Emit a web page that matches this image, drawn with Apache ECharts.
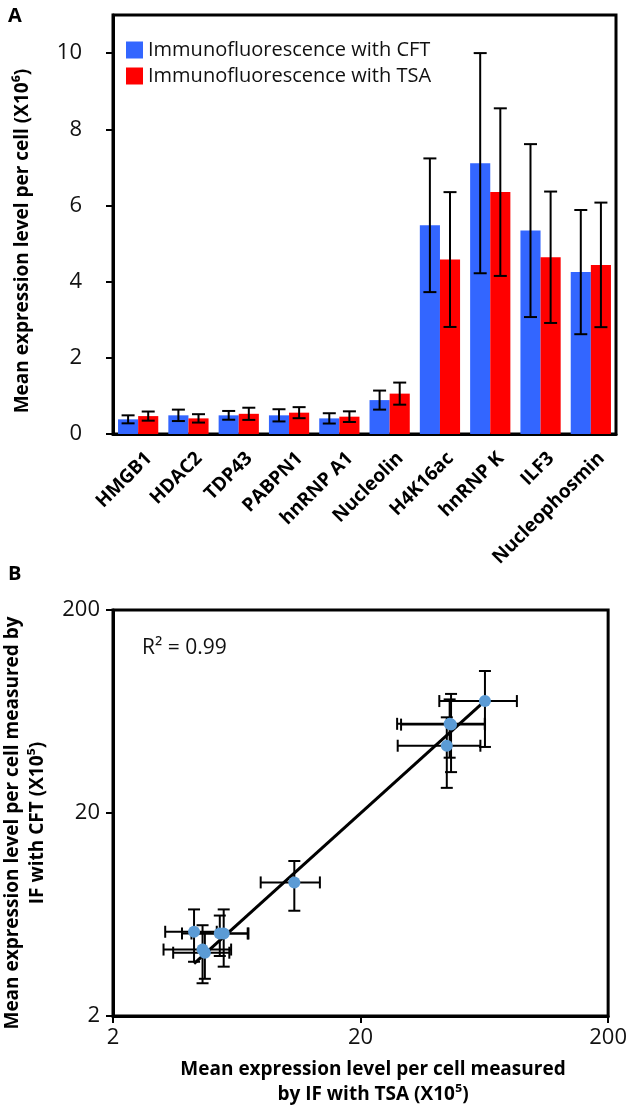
<!DOCTYPE html>
<html><head><meta charset="utf-8">
<script src="https://cdn.jsdelivr.net/npm/echarts@6/dist/echarts.min.js"></script>
<style>html,body{margin:0;padding:0;background:#fff}#c{width:630px;height:1108px}</style>
</head><body><div id="c"></div>
<script>
// ---------- Panel A data (x10^6) ----------
const categories = ['HMGB1','HDAC2','TDP43','PABPN1','hnRNP A1','Nucleolin','H4K16ac','hnRNP K','ILF3','Nucleophosmin'];
const cftMean = [0.385,0.49,0.49,0.49,0.41,0.89,5.48,7.11,5.34,4.25];
const cftErr  = [0.105,0.15,0.115,0.16,0.135,0.25,1.755,2.89,2.27,1.63];
const tsaMean = [0.47,0.41,0.53,0.56,0.455,1.06,4.58,6.35,4.64,4.44];
const tsaErr  = [0.12,0.11,0.16,0.145,0.14,0.29,1.77,2.2,1.725,1.635];
const barAxisMin = 0, barAxisMax = 11, barAxisStep = 2;
const seriesNames = ['Immunofluorescence with CFT','Immunofluorescence with TSA'];

// ---------- Panel B data (x10^5) ----------
const scatterTsa    = [4.7,4.25,5.4,5.6,4.6,10.8,45.8,63.6,46.4,44.6];
const scatterCft    = [4.1,5.2,5.1,5.1,4.25,9.1,55.0,71.2,54.5,42.9];
const scatterTsaErr = [1.2,1.0,1.6,1.45,1.4,2.9,17.7,22,17.25,16.35];
const scatterCftErr = [1.05,1.5,1.15,1.6,1.35,2.5,17.55,28.9,22.7,16.3];
const logTicks = [2,20,200];
const r2Text = 'R\u00b2 = 0.99';

const FONT = '"Open Sans", sans-serif';
const BLUE = '#3366ff', RED = '#ff0000', DOT = '#5b9bd5';

// linear regression (Excel-style linear trendline)
function linFit(xs, ys){
  const n = xs.length;
  const mx = xs.reduce((a,b)=>a+b,0)/n, my = ys.reduce((a,b)=>a+b,0)/n;
  let sxy=0, sxx=0;
  for(let i=0;i<n;i++){ sxy += (xs[i]-mx)*(ys[i]-my); sxx += (xs[i]-mx)*(xs[i]-mx); }
  const k = sxy/sxx; return {k, b: my - k*mx};
}
const fit = linFit(scatterTsa, scatterCft);
const xMinFit = Math.min(...scatterTsa), xMaxFit = Math.max(...scatterTsa);
const trendData = [[xMinFit, fit.k*xMinFit+fit.b],[xMaxFit, fit.k*xMaxFit+fit.b]];

function barErr(sign){
  return function(params, api){
    const i = api.value(0), m = api.value(1), e = api.value(2);
    const band = api.size([1,0])[0];
    const x = api.coord([i, m])[0] + sign*band*0.2;
    const top = api.coord([i, m+e])[1], bot = api.coord([i, m-e])[1];
    const cap = 6.5;
    const style = {stroke:'#000', lineWidth:2};
    return {type:'group', children:[
      {type:'line', shape:{x1:x,y1:top,x2:x,y2:bot}, style},
      {type:'line', shape:{x1:x-cap,y1:top,x2:x+cap,y2:top}, style},
      {type:'line', shape:{x1:x-cap,y1:bot,x2:x+cap,y2:bot}, style}
    ]};
  };
}
function xyErr(params, api){
  const x = api.value(0), y = api.value(1), ex = api.value(2), ey = api.value(3);
  const c = api.coord([x,y]);
  const xl = api.coord([x-ex,y])[0], xr = api.coord([x+ex,y])[0];
  const yt = api.coord([x,y+ey])[1], yb = api.coord([x,y-ey])[1];
  const cap = 6;
  const style = {stroke:'#000', lineWidth:2};
  return {type:'group', children:[
    {type:'line', shape:{x1:xl,y1:c[1],x2:xr,y2:c[1]}, style},
    {type:'line', shape:{x1:xl,y1:c[1]-cap,x2:xl,y2:c[1]+cap}, style},
    {type:'line', shape:{x1:xr,y1:c[1]-cap,x2:xr,y2:c[1]+cap}, style},
    {type:'line', shape:{x1:c[0],y1:yt,x2:c[0],y2:yb}, style},
    {type:'line', shape:{x1:c[0]-cap,y1:yt,x2:c[0]+cap,y2:yt}, style},
    {type:'line', shape:{x1:c[0]-cap,y1:yb,x2:c[0]+cap,y2:yb}, style}
  ]};
}

const axisLineStyle = {color:'#000', width:3};
const tickLabel = {color:'#111', fontSize:22, fontFamily:FONT};
const titleFont = 'bold 19px ' + FONT;

const option = {
  animation:false,
  backgroundColor:'#fff',
  grid:[
    {left:113, top:15, width:503, height:419, show:true, borderColor:'#000', borderWidth:3},
    {left:113, top:610, width:500, height:406, show:true, borderColor:'#000', borderWidth:3}
  ],
  legend:{
    left:121, top:35, orient:'vertical', itemWidth:17, itemHeight:17, itemGap:6,
    icon:'rect', data:seriesNames,
    textStyle:{fontSize:20, fontFamily:FONT, color:'#111'}
  },
  xAxis:[
    {type:'category', gridIndex:0, data:categories,
     axisLine:{lineStyle:axisLineStyle}, axisTick:{show:false},
     axisLabel:{interval:0, rotate:45, margin:32, padding:[0,-15,0,0],
                fontSize:19, fontWeight:'bold', fontFamily:FONT, color:'#000'}},
    {type:'log', gridIndex:1, logBase:10, min:logTicks[0], max:logTicks[logTicks.length-1],
     axisLine:{lineStyle:axisLineStyle},
     axisTick:{show:true, length:7, customValues:logTicks, lineStyle:{color:'#000', width:2}},
     minorTick:{show:false}, splitLine:{show:false},
     axisLabel:Object.assign({customValues:logTicks, margin:11}, tickLabel)}
  ],
  yAxis:[
    {type:'value', gridIndex:0, min:barAxisMin, max:barAxisMax, interval:barAxisStep,
     axisLine:{show:true, lineStyle:axisLineStyle},
     axisTick:{show:true, length:7, lineStyle:{color:'#000', width:2}},
     splitLine:{show:false},
     axisLabel:Object.assign({margin:31, showMaxLabel:false}, tickLabel)},
    {type:'log', gridIndex:1, logBase:10, min:logTicks[0], max:logTicks[logTicks.length-1],
     axisLine:{show:true, lineStyle:axisLineStyle},
     axisTick:{show:true, length:7, customValues:logTicks, lineStyle:{color:'#000', width:2}},
     minorTick:{show:false}, splitLine:{show:false},
     axisLabel:Object.assign({customValues:logTicks, margin:13}, tickLabel)}
  ],
  series:[
    {name:seriesNames[0], type:'bar', xAxisIndex:0, yAxisIndex:0, data:cftMean,
     barGap:'0%', barCategoryGap:'20%', itemStyle:{color:BLUE}},
    {name:seriesNames[1], type:'bar', xAxisIndex:0, yAxisIndex:0, data:tsaMean,
     barGap:'0%', barCategoryGap:'20%', itemStyle:{color:RED}},
    {type:'custom', xAxisIndex:0, yAxisIndex:0, renderItem:barErr(-1), z:5,
     encode:{x:0, y:1}, data:categories.map((c,i)=>[i, cftMean[i], cftErr[i]])},
    {type:'custom', xAxisIndex:0, yAxisIndex:0, renderItem:barErr(1), z:5,
     encode:{x:0, y:1}, data:categories.map((c,i)=>[i, tsaMean[i], tsaErr[i]])},
    {type:'custom', xAxisIndex:1, yAxisIndex:1, renderItem:xyErr, z:3,
     encode:{x:0, y:1}, data:scatterTsa.map((v,i)=>[v, scatterCft[i], scatterTsaErr[i], scatterCftErr[i]])},
    {type:'line', xAxisIndex:1, yAxisIndex:1, data:trendData, showSymbol:false, symbol:'none',
     lineStyle:{color:'#000', width:3}, z:4},
    {type:'scatter', xAxisIndex:1, yAxisIndex:1, symbolSize:12, z:5,
     itemStyle:{color:DOT, opacity:1},
     data:scatterTsa.map((v,i)=>[v, scatterCft[i]])}
  ],
  graphic:[
    {type:'text', x:8, y:6, style:{text:'A', font:'bold 20px '+FONT, fill:'#000'}},
    {type:'text', x:8, y:564, style:{text:'B', font:'bold 20px '+FONT, fill:'#000'}},
    {type:'text', x:23, y:241, rotation:Math.PI/2,
     style:{text:'Mean expression level per cell (X10\u2076)', font:titleFont, fill:'#000',
            align:'center', verticalAlign:'middle', textAlign:'center', textVerticalAlign:'middle'}},
    {type:'text', x:13, y:823, rotation:Math.PI/2,
     style:{text:'Mean expression level per cell measured by', font:titleFont, fill:'#000',
            align:'center', verticalAlign:'middle', textAlign:'center', textVerticalAlign:'middle'}},
    {type:'text', x:38, y:823, rotation:Math.PI/2,
     style:{text:'IF with CFT (X10\u2075)', font:titleFont, fill:'#000',
            align:'center', verticalAlign:'middle', textAlign:'center', textVerticalAlign:'middle'}},
    {type:'text', x:373, y:1070,
     style:{text:'Mean expression level per cell measured', font:titleFont, fill:'#000',
            align:'center', verticalAlign:'middle', textAlign:'center', textVerticalAlign:'middle'}},
    {type:'text', x:373, y:1095,
     style:{text:'by IF with TSA (X10\u2075)', font:titleFont, fill:'#000',
            align:'center', verticalAlign:'middle', textAlign:'center', textVerticalAlign:'middle'}},
    {type:'text', x:142, y:648,
     style:{text:r2Text, font:'21px '+FONT, fill:'#111',
            align:'left', verticalAlign:'middle', textAlign:'left', textVerticalAlign:'middle'}}
  ]
};
const chart = echarts.init(document.getElementById('c'), null, {renderer:'canvas'});
chart.setOption(option);
</script></body></html>
